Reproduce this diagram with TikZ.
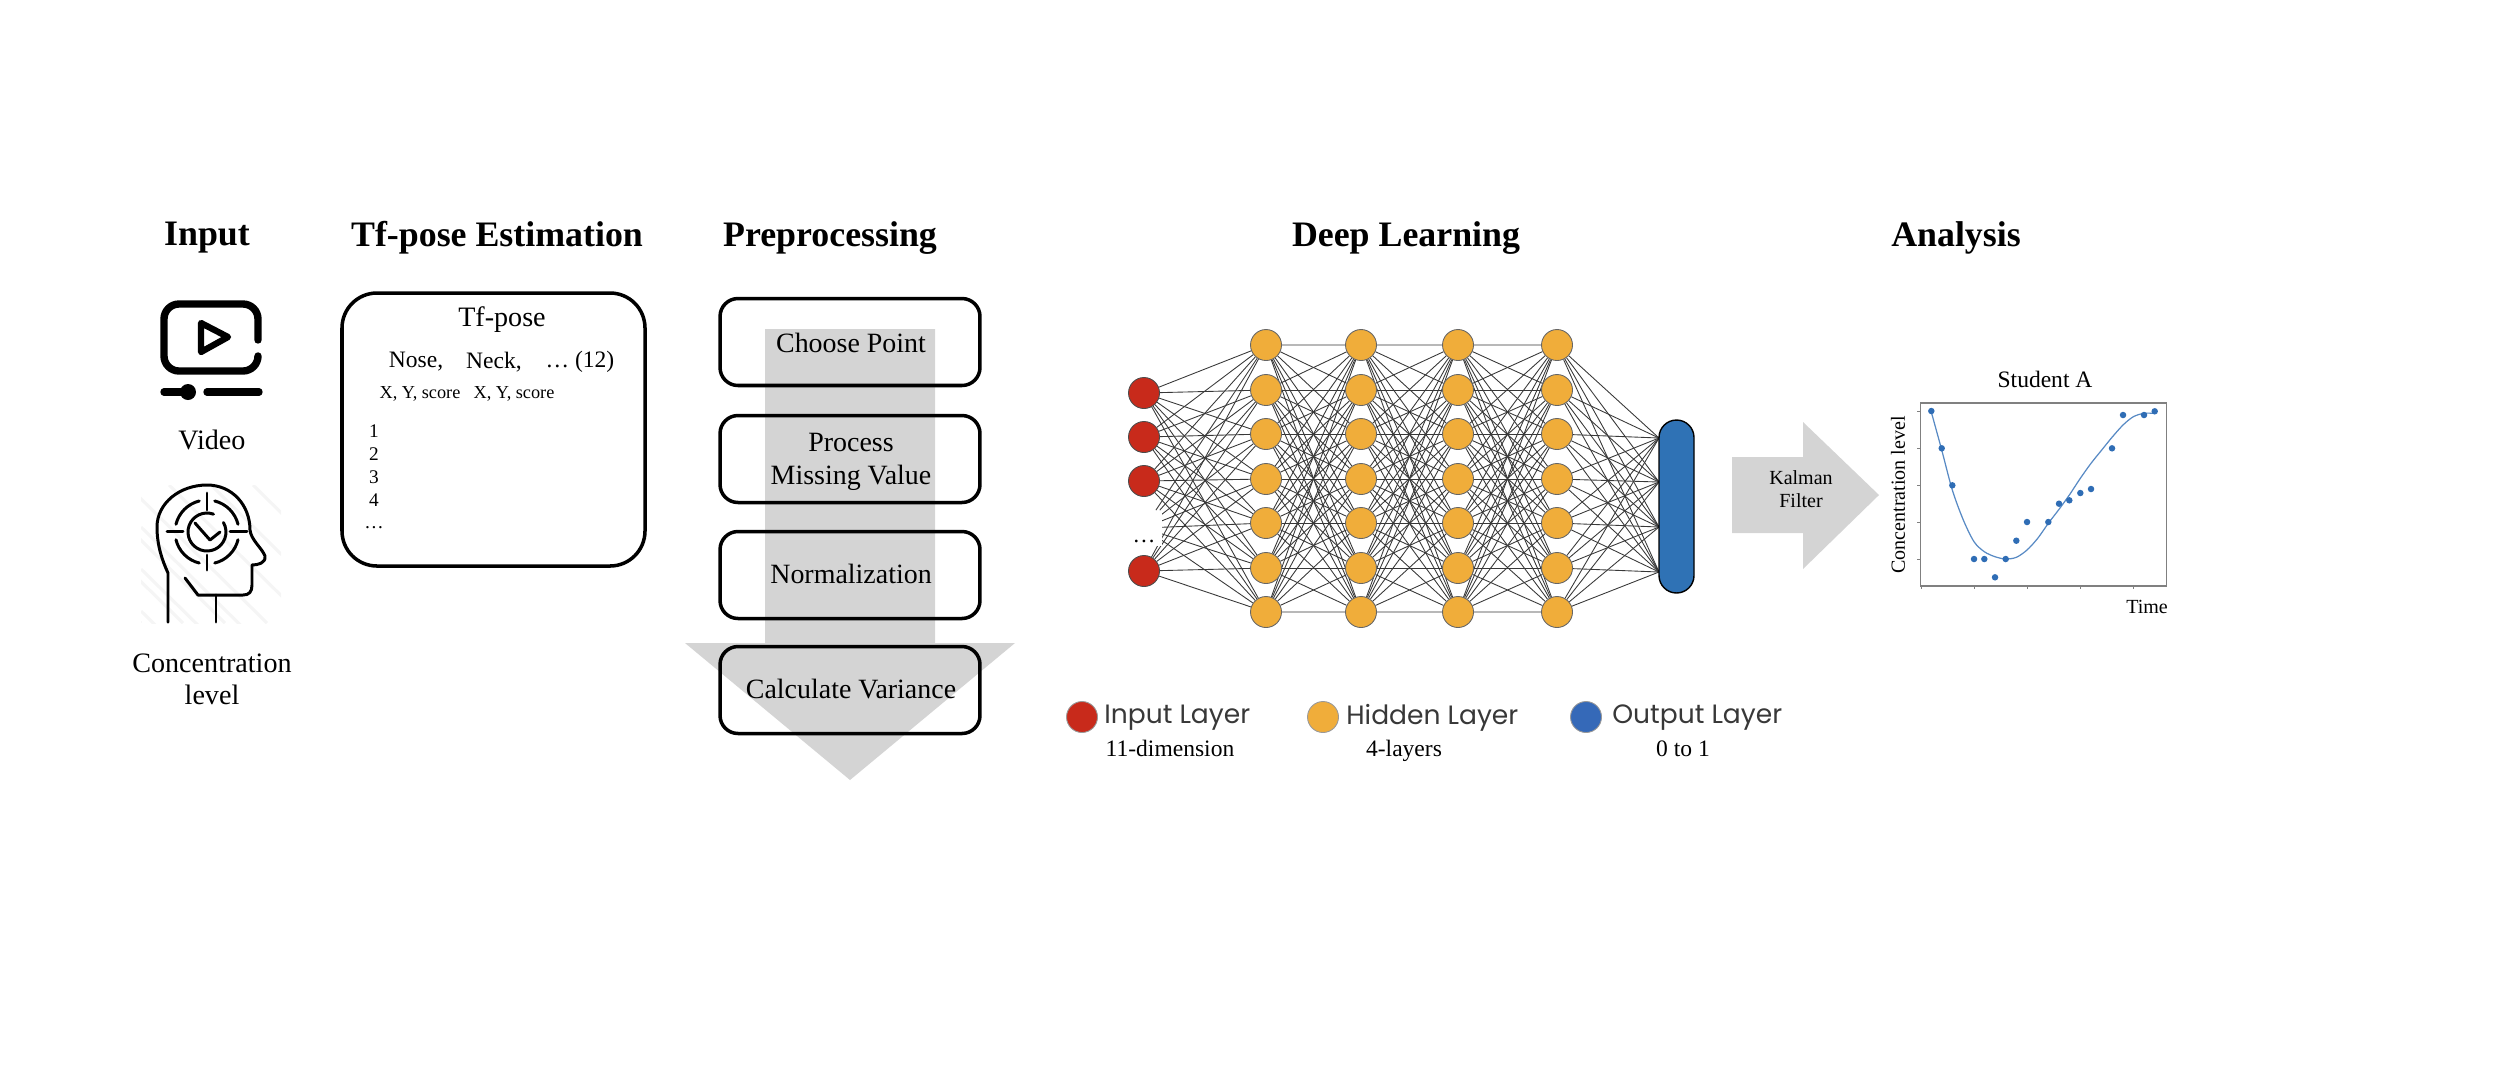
\documentclass[tikz,border=0pt]{standalone}
\usepackage{fontspec}
\setmainfont{Liberation Serif}
\newfontfamily\legendfont{Poppins}
\usetikzlibrary{backgrounds}
\definecolor{arrowgray}{HTML}{D4D4D4}
\definecolor{inred}{HTML}{C82A1B}
\definecolor{hidorange}{HTML}{F0AD3A}
\definecolor{outblue}{HTML}{2F72B5}
\definecolor{legblue}{HTML}{3569B8}
\definecolor{plotblue}{HTML}{2F6DB5}
\tikzset{
  title/.style={font=\fontsize{20.4}{24}\selectfont\bfseries},
  plain/.style={font=\fontsize{16}{18.2}\selectfont,align=center,inner sep=0pt},
  small/.style={font=\fontsize{13.4}{15}\selectfont,inner sep=0pt},
  tiny/.style={font=\fontsize{10.4}{12}\selectfont,inner sep=0pt},
  rownum/.style={font=\fontsize{11}{12}\selectfont,inner sep=0pt},
  axislabel/.style={font=\fontsize{11.4}{13}\selectfont,inner sep=0pt},
  legendtext/.style={font=\fontsize{15.1}{17}\selectfont\legendfont,text=black!78,anchor=west,inner sep=0pt},
  procbox/.style={draw,line width=2pt,rounded corners=0.36cm,minimum width=5.2cm,minimum height=1.74cm,inner sep=0pt},
  proctext/.style={font=\fontsize{15.9}{18.9}\selectfont,align=center,inner sep=0pt},
  innode/.style={circle,draw=black!70,fill=inred,line width=0.5pt,minimum size=0.62cm,inner sep=0pt},
  hidnode/.style={circle,draw=black!60,fill=hidorange,line width=0.5pt,minimum size=0.62cm,inner sep=0pt},
  legnode/.style={circle,draw=black!40,line width=0.5pt,minimum size=0.62cm,inner sep=0pt},
  edge/.style={draw=black!78,line width=0.5pt},
  faint/.style={draw=black!28,line width=1pt},
  icon/.style={line width=4.2pt,line cap=round,line join=round},
  headline/.style={line width=1.7pt,line cap=round,line join=round},
  dotmark/.style={circle,fill=plotblue,inner sep=0pt,minimum size=0.13cm},
}
\begin{document}
\begin{tikzpicture}[x=0.02cm,y=-0.02cm]
\useasboundingbox (0,0) rectangle (2500,1080);

% titles
\node[title] (t1) at (207,238) {Input};
\node[title] (t2) at (497,238) {Tf-pose Estimation};
\node[title] (t3) at (830,238) {Preprocessing};
\node[title] (t4) at (1406,238) {Deep Learning};
\node[title] (t5) at (1956,238) {Analysis};

% video icon
\draw[icon] (258,340) -- (258,319) arc[start angle=0,end angle=90,radius=0.3cm]
  -- (179,304) arc[start angle=90,end angle=180,radius=0.3cm]
  -- (164,356) arc[start angle=180,end angle=270,radius=0.3cm]
  -- (243,371) arc[start angle=270,end angle=360,radius=0.3cm] -- (258,358);
\draw[icon,line width=3.6pt] (201,323) -- (228,337) -- (201,352) -- cycle;
\draw[icon] (164,392) -- (188,392);
\fill (188,392) circle[radius=0.16cm];
\draw[icon] (207,392) -- (259,392);
\node[plain] (video) at (212,440) {Video};

% head icon
\begin{scope}
\clip (141,485) rectangle (281,623);
\foreach \k in {0,...,6}
  \draw[black!4,line width=1.8pt] ({1+\k*42},485) -- +(140,138);
\foreach \k in {1,...,3}
  \draw[black!4,line width=1.8pt] (141,{485+\k*42}) -- +(140,138);
\end{scope}
\draw[headline] (168,622) -- (168,573) .. controls (162,560) and (157,545) .. (157,527)
  .. controls (157,503) and (180,485) .. (207,485) .. controls (232,485) and (250,505) .. (250,530)
  .. controls (251,540) and (262,548) .. (265,556) .. controls (266,563) and (258,565) .. (252,565)
  -- (252,585) .. controls (252,592) and (249,595) .. (243,595) -- (198,595) -- (185,578);
\draw[headline] (216,595) -- (216,622);
\foreach \a in {0,90,180,270}
  \draw[headline] (207,532) ++({\a+14}:0.64cm) arc[start angle=\a+14,end angle=\a+76,radius=0.64cm];
\draw[headline] (207,532) ++(70:0.38cm) arc[start angle=70,end angle=390,radius=0.38cm];
\draw[headline] (195,523) -- (210,540) -- (220,532);
\draw[headline] (207,493) -- (207,510);
\draw[headline] (207,555) -- (207,570);
\draw[headline] (167,531) -- (183,531);
\draw[headline] (230,531) -- (247,531);
\node[plain] (conc) at (212,679) {Concentration\\level};

% tf-pose box
\draw[line width=2pt,rounded corners=0.7cm] (342,293) rectangle (645,566);
\node[plain] (tfpose) at (502,320) {Tf-pose};
\node[small] (nose) at (416,362) {Nose,};
\node[small] (neck) at (494,362) {Neck,};
\node[small] (more) at (580,362) {\dots\ (12)};
\node[tiny] (xy1) at (420,394) {X, Y, score};
\node[tiny] (xy2) at (514,394) {X, Y, score};
\node[rownum] (r1) at (374,431) {1};
\node[rownum] (r2) at (374,454) {2};
\node[rownum] (r3) at (374,477) {3};
\node[rownum] (r4) at (374,500) {4};
\node[rownum] (r5) at (374,528) {\dots};

% preprocessing
\fill[arrowgray] (765,329) -- (935,329) -- (935,643) -- (1015,643) -- (850,780) -- (685,643) -- (765,643) -- cycle;
\node[procbox] (p1) at (850,342) {};
\node[proctext] (p1t) at (851,343) {Choose Point};
\node[procbox] (p2) at (850,459) {};
\node[proctext] (p2t) at (851,462) {Process\\Missing Value};
\node[procbox] (p3) at (850,575) {};
\node[proctext] (p3t) at (851,574) {Normalization};
\node[procbox] (p4) at (850,690) {};
\node[proctext] (p4t) at (851,689) {Calculate Variance};

% network
\node[innode] (in1) at (1144,393) {};
\node[innode] (in2) at (1144,437) {};
\node[innode] (in3) at (1144,481) {};
\node[fill=white,inner sep=0pt,minimum width=0.7cm,minimum height=0.7cm] (in4) at (1144,528) {};
\node[font=\fontsize{13}{13}\selectfont,inner sep=0pt] (indots) at (1144,541) {\dots};
\node[innode] (in5) at (1144,571) {};
\foreach \l/\x in {1/1266,2/1361,3/1458,4/1557}
  \foreach \r/\y in {1/345,2/390,3/434,4/479,5/523,6/568,7/612}
    \node[hidnode] (h\l-\r) at (\x,\y) {};
\node[draw,line width=0.8pt,fill=outblue,rounded corners=0.35cm,minimum width=0.7cm,minimum height=3.46cm,inner sep=0pt] (out) at (1676.5,506.5) {};
\coordinate (o1) at (1659,438);
\coordinate (o2) at (1659,482);
\coordinate (o3) at (1659,527);
\coordinate (o4) at (1659,572);
\begin{scope}[on background layer]
\foreach \i in {1,...,5}
  \foreach \j in {1,...,7}
    \draw[edge] (in\i) -- (h1-\j);
\foreach \l/\m in {1/2,2/3,3/4}
  \foreach \i in {1,...,7}
    \foreach \j in {1,...,7}
      \draw[edge] (h\l-\i) -- (h\m-\j);
\foreach \i in {1,...,7}
  \foreach \j in {1,...,4}
    \draw[edge] (h4-\i) -- (o\j);
\foreach \l/\m in {1/2,2/3,3/4} {
  \draw[faint] (h\l-1) -- (h\m-1);
  \draw[faint] (h\l-7) -- (h\m-7);
}
\end{scope}

% legend
\node[legnode,fill=inred] (l1) at (1082,717) {};
\node[legendtext] (l1t) at (1104,718) {Input Layer};
\node[small,anchor=base] (l1s) at (1170,756) {11-dimension};
\node[legnode,fill=hidorange] (l2) at (1323,717) {};
\node[legendtext] (l2t) at (1346,718) {Hidden Layer};
\node[small,anchor=base] (l2s) at (1404,756) {4-layers};
\node[legnode,fill=legblue] (l3) at (1586,717) {};
\node[legendtext] (l3t) at (1612,718) {Output Layer};
\node[small,anchor=base] (l3s) at (1683,756) {0 to 1};

% kalman arrow
\fill[arrowgray] (1732,457) -- (1803,457) -- (1803,422) -- (1879,495) -- (1803,569) -- (1803,533) -- (1732,533) -- cycle;
\node[axislabel,align=center] (kal) at (1801,489) {Kalman\\Filter};

% plot
\node[small] (stud) at (2045,379) {Student A};
\draw[black!50,line width=0.6pt] (1920,403) rectangle (2166,586);
\foreach \y in {411,448,485,522,559}
  \draw[black!50,line width=0.5pt] (1917,\y) -- (1920,\y);
\foreach \x in {1921,1974,2027,2080,2133}
  \draw[black!50,line width=0.5pt] (\x,586) -- (\x,589);
\draw[plotblue!80,line width=0.7pt] plot[smooth] coordinates {(1931,411) (1941.7,450) (1952.3,490) (1963.3,520) (1974,541.7) (1984.3,551.7) (1995,556.7) (2005.7,559) (2016.3,557.3) (2027,550) (2037.7,538.3) (2048.3,523.3) (2059,509.3) (2069.3,495) (2080.3,478.3) (2091,463.3) (2101.7,450) (2112,437.3) (2123,425) (2133.3,416.7) (2144,413.3) (2154.7,413.3)};
\foreach \x/\y in {1931.3/411,1941.7/448.3,1952.3/485.3,1974/559,1984.3/559,1995/577.3,2005.7/559,2016.3/540.7,2027/522,2048.3/522,2059/503.7,2069.3/500.3,2080.3/493,2091/489,2112/448.3,2123/415,2144/415,2154.7/411.3}
  \node[dotmark] at (\x,\y) {};
\node[axislabel,rotate=90] (ylab) at (1898,495) {Concentration level};
\node[axislabel] (xlab) at (2147,607) {Time};
\end{tikzpicture}
\end{document}
